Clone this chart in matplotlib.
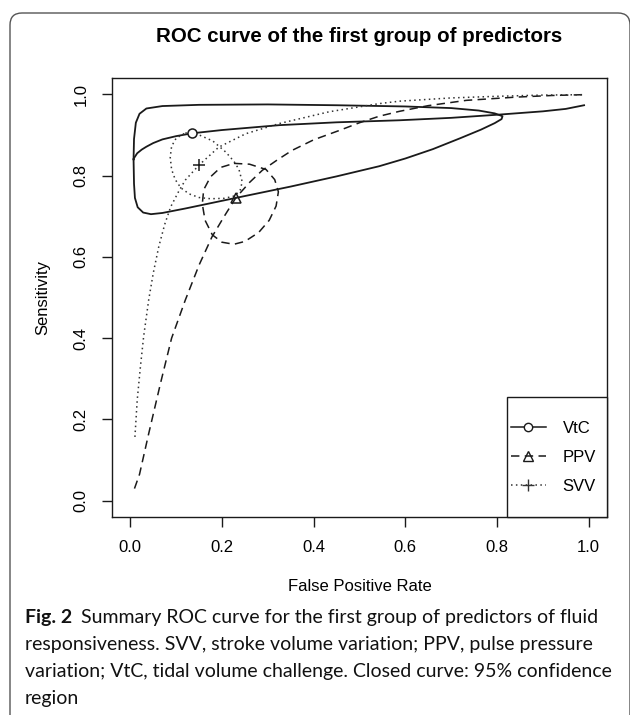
import matplotlib
matplotlib.use("Agg")
import matplotlib.pyplot as plt
from matplotlib.patches import Rectangle, FancyBboxPatch
from matplotlib.lines import Line2D

# ---- values ----
# VtC summary ROC curve (solid)
vtc_fpr = [0.008, 0.015, 0.025, 0.035, 0.05, 0.07, 0.1, 0.135, 0.2, 0.325,
           0.45, 0.587, 0.7, 0.805, 0.9, 0.95, 0.99]
vtc_sens = [0.843, 0.855, 0.864, 0.871, 0.880, 0.889, 0.897, 0.904, 0.912, 0.924,
            0.931, 0.936, 0.942, 0.950, 0.958, 0.964, 0.973]
# VtC 95% confidence region (solid closed curve)
vtc_ci_fpr = [0.007, 0.008, 0.012, 0.02, 0.035, 0.07, 0.15, 0.3, 0.45, 0.6,
              0.7, 0.76, 0.795, 0.812, 0.81, 0.795, 0.765, 0.72, 0.66, 0.6,
              0.543, 0.45, 0.35, 0.23, 0.12, 0.07, 0.045, 0.028, 0.016, 0.01,
              0.008, 0.007]
vtc_ci_sens = [0.84, 0.89, 0.93, 0.952, 0.965, 0.971, 0.974, 0.975, 0.973, 0.970,
               0.966, 0.960, 0.953, 0.946, 0.939, 0.929, 0.913, 0.892, 0.865, 0.842,
               0.823, 0.798, 0.773, 0.745, 0.719, 0.708, 0.705, 0.709, 0.722, 0.745,
               0.78, 0.84]
vtc_point = (0.135, 0.904)

# PPV summary ROC curve (dashed)
ppv_fpr = [0.009, 0.02, 0.04, 0.066, 0.09, 0.12, 0.15, 0.178, 0.205, 0.23,
           0.26, 0.288, 0.32, 0.353, 0.4, 0.456, 0.5, 0.543, 0.587, 0.65,
           0.733, 0.842, 0.92, 0.99]
ppv_sens = [0.03, 0.065, 0.165, 0.29, 0.40, 0.494, 0.58, 0.649, 0.70, 0.745,
            0.783, 0.813, 0.838, 0.862, 0.888, 0.911, 0.93, 0.946, 0.958, 0.972,
            0.985, 0.993, 0.997, 0.999]
ppv_ci_fpr = [0.226, 0.26, 0.296, 0.315, 0.323, 0.318, 0.303, 0.28, 0.25, 0.226,
              0.2, 0.179, 0.163, 0.157, 0.16, 0.175, 0.197, 0.226]
ppv_ci_sens = [0.830, 0.828, 0.815, 0.79, 0.76, 0.725, 0.69, 0.66, 0.638, 0.631,
               0.636, 0.654, 0.69, 0.73, 0.765, 0.797, 0.82, 0.830]
ppv_point = (0.23, 0.745)

# SVV summary ROC curve (dotted)
svv_fpr = [0.01, 0.015, 0.022, 0.029, 0.04, 0.05, 0.062, 0.075, 0.088, 0.105,
           0.12, 0.15, 0.193, 0.252, 0.325, 0.434, 0.543, 0.587, 0.7, 0.8,
           0.9, 0.99]
svv_sens = [0.157, 0.248, 0.33, 0.404, 0.494, 0.56, 0.625, 0.68, 0.723, 0.76,
            0.789, 0.826, 0.870, 0.903, 0.928, 0.957, 0.977, 0.983, 0.991, 0.995,
            0.998, 0.999]
svv_ci_fpr = [0.12, 0.15, 0.18, 0.208, 0.226, 0.237, 0.244, 0.24, 0.228, 0.205,
              0.175, 0.15, 0.128, 0.11, 0.098, 0.09, 0.087, 0.09, 0.1, 0.12]
svv_ci_sens = [0.905, 0.90, 0.885, 0.858, 0.835, 0.815, 0.785, 0.765, 0.75, 0.744,
               0.743, 0.746, 0.755, 0.77, 0.79, 0.815, 0.845, 0.872, 0.892, 0.905]
svv_point = (0.15, 0.826)

ticks = [0.0, 0.2, 0.4, 0.6, 0.8, 1.0]
tick_labels = ["0.0", "0.2", "0.4", "0.6", "0.8", "1.0"]
legend_labels = ["VtC", "PPV", "SVV"]

title = "ROC curve of the first group of predictors"
caption_lines = [
    "Summary ROC curve for the first group of predictors of fluid",
    "responsiveness. SVV, stroke volume variation; PPV, pulse pressure",
    "variation; VtC, tidal volume challenge. Closed curve: 95% confidence",
    "region",
]

# ---- styles ----
INK = "#1a1a1a"
DASH = (0, (5.5, 3.5))
DOT = (0, (1, 2.2))
R_FONT = "Liberation Sans"
CAP_FONT = "Lato"

fig = plt.figure(figsize=(6.3, 7.15), dpi=100)
ax = fig.add_axes([0.1778, 0.2769, 0.7857, 0.6140])

# solid: VtC
ax.plot(vtc_ci_fpr, vtc_ci_sens, color=INK, lw=1.3, ls="-")
ax.plot(vtc_fpr, vtc_sens, color=INK, lw=1.3, ls="-")
ax.plot(*vtc_point, marker="o", mfc="white", mec=INK, ms=6.5, mew=1.1, ls="none", zorder=5)

# dashed: PPV
ax.plot(ppv_ci_fpr, ppv_ci_sens, color=INK, lw=1.1, ls=DASH)
ax.plot(ppv_fpr, ppv_sens, color=INK, lw=1.1, ls=DASH)
ax.plot(*ppv_point, marker="^", mfc="none", mec=INK, ms=7, mew=1.1, ls="none", zorder=5)

# dotted: SVV
ax.plot(svv_ci_fpr, svv_ci_sens, color="#333333", lw=1.1, ls=DOT)
ax.plot(svv_fpr, svv_sens, color="#333333", lw=1.1, ls=DOT)
ax.plot(*svv_point, marker="+", color=INK, ms=9, mew=1.1, ls="none", zorder=5)

ax.set_xlim(-0.04, 1.04)
ax.set_ylim(-0.04, 1.04)
ax.set_xticks(ticks)
ax.set_xticklabels(tick_labels, fontfamily=R_FONT, fontsize=12)
ax.set_yticks(ticks)
ax.set_yticklabels(tick_labels, fontfamily=R_FONT, fontsize=12, rotation=90, va="center")
ax.tick_params(direction="out", length=7.2, width=1, color=INK, pad=9.5)
for sp in ax.spines.values():
    sp.set_linewidth(1)
    sp.set_color(INK)

ax.set_xlabel("False Positive Rate", fontfamily=R_FONT, fontsize=12)
ax.xaxis.set_label_coords(0.5, -0.142)
ax.set_ylabel("Sensitivity", fontfamily=R_FONT, fontsize=12)
ax.yaxis.set_label_coords(-0.1255, 0.5)

fig.text(0.5706, 0.9483, title, ha="center", va="center",
         fontfamily=R_FONT, fontweight="bold", fontsize=14.8)

# legend: R style box in the lower right corner
ax.add_patch(Rectangle((0.7976, 0.0), 0.2024, 0.2743, transform=ax.transAxes,
                       facecolor="white", edgecolor=INK, lw=1, zorder=6, clip_on=False))
handles = [
    Line2D([], [], color=INK, lw=1.1, ls="-", marker="o", mfc="white", ms=6),
    Line2D([], [], color=INK, lw=1.1, ls=DASH, marker="^", mfc="none", ms=6.5),
    Line2D([], [], color="#333333", lw=1.1, ls=DOT, marker="+", ms=9),
]
leg = ax.legend(handles, legend_labels, loc="center left", bbox_to_anchor=(0.806, 0.136),
                frameon=False, borderpad=0, borderaxespad=0, handlelength=2.1,
                handletextpad=1.0, labelspacing=0.85,
                prop={"family": R_FONT, "size": 12})
leg.set_zorder(7)

# outer rounded frame of the journal figure
frame = FancyBboxPatch((0.10, -0.5), 6.2, 7.52, boxstyle="round,pad=0,rounding_size=0.12",
                       transform=fig.dpi_scale_trans, fill=False, edgecolor="#555555", lw=1)
fig.add_artist(frame)

# caption
x0 = 25 / 630
base = [623, 650, 677, 704]
bold = fig.text(x0, 1 - base[0] / 715, "Fig. 2", fontfamily=CAP_FONT, fontweight="bold",
                fontsize=14, va="baseline", color="#111111")
ax.annotate(caption_lines[0], xy=(1, 0), xycoords=bold, xytext=(6.5, 0),
            textcoords="offset points", va="bottom", ha="left", fontfamily=CAP_FONT,
            fontsize=14, color="#111111", annotation_clip=False)
for line, b in zip(caption_lines[1:], base[1:]):
    fig.text(x0, 1 - b / 715, line, fontfamily=CAP_FONT, fontsize=14,
             va="baseline", color="#111111")

fig.savefig("out.png", dpi=100)
